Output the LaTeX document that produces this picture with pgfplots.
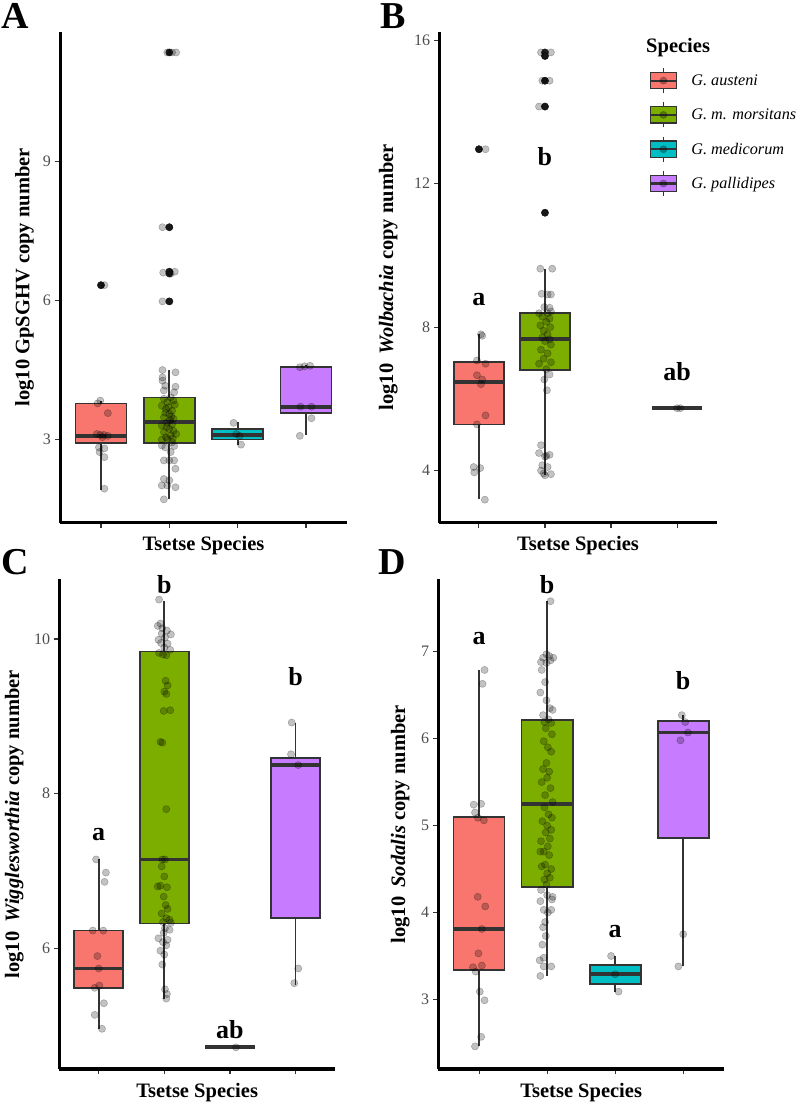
\documentclass[border=0pt]{standalone}
\usepackage{fontspec}
\setmainfont{Liberation Serif}
\usepackage{pgfplots}
\pgfplotsset{compat=1.18}
\usepgfplotslibrary{statistics}

\definecolor{cA}{HTML}{F8766D}
\definecolor{cB}{HTML}{7CAE00}
\definecolor{cC}{HTML}{00BFC4}
\definecolor{cD}{HTML}{C77CFF}
\definecolor{gtwenty}{HTML}{333333}
\definecolor{gthirty}{HTML}{4D4D4D}

\newcommand\ttlfont{\fontsize{20.5}{24}\selectfont\bfseries}
\newcommand\tickfont{\fontsize{16}{19}\selectfont}
\newcommand\letfont{\fontsize{26}{28}\selectfont\bfseries}
\newcommand\panfont{\fontsize{38}{40}\selectfont\bfseries}

\pgfplotsset{
  panel/.style={
    scale only axis, anchor=south west, clip=false,
    xmin=0.4, xmax=4.6,
    axis x line*=bottom, axis y line*=left,
    axis line style={-, line width=3pt, black},
    xtick={1,2,3,4}, xticklabels={},
    tick align=outside, major tick length=5pt,
    tick style={gtwenty, line width=1.1pt},
    yticklabel style={font=\tickfont, text=gthirty, inner sep=4pt},
    /pgf/number format/assume math mode=true,
    xlabel={Tsetse Species},
    xlabel style={at={(axis description cs:0.5,0)}, anchor=base, yshift=-28pt, font=\ttlfont},
    ylabel style={font=\ttlfont, anchor=center},
  },
  bx/.style n args={6}{boxplot prepared={draw position=#1, lower whisker=#2,
      lower quartile=#3, median=#4, upper quartile=#5, upper whisker=#6,
      box extend=0.75, whisker extend=0, draw direction=y},
    draw=gtwenty, line width=1.7pt, forget plot},
  boxplot/every median/.style={line width=3.8pt},
  jit/.style={only marks, mark=*, mark size=3.6pt,
    mark options={draw=black, fill=black, draw opacity=0.28, fill opacity=0.24, line width=0.5pt},
    forget plot},
  outl/.style={only marks, mark=*, mark size=3.6pt, color=black!88, forget plot},
  boxkey/.style={legend image code/.code={
    \draw[gtwenty, line width=1.3pt] (12.85pt,-12.5pt) -- (12.85pt,12.5pt);
    \draw[gtwenty, fill=#1, line width=1.3pt] (0pt,-8.2pt) rectangle (25.7pt,8.2pt);
    \draw[gtwenty, line width=2.2pt] (0pt,0pt) -- (25.7pt,0pt);
    \fill[black, opacity=0.3] (12.85pt,0pt) circle (3.6pt);
  }},
}

\begin{document}
\begin{tikzpicture}[x=1pt, y=1pt]

% ---------------- A: GpSGHV
\begin{axis}[panel, at={(60pt,580pt)}, width=287pt, height=491.4pt,
  ymin=1.2, ymax=11.8, ytick={3,6,9},
  ylabel={log10 GpSGHV copy number},
  ylabel style={at={(axis description cs:-0.1237,0.5)}}]
\addplot[bx={1}{1.92}{2.92}{3.08}{3.78}{3.84}, fill=cA] coordinates {};
\addplot[bx={2}{1.71}{2.92}{3.37}{3.91}{4.49}, fill=cB] coordinates {};
\addplot[bx={3}{2.89}{3.00}{3.10}{3.23}{3.37}, fill=cC] coordinates {};
\addplot[bx={4}{3.09}{3.57}{3.71}{4.57}{4.60}, fill=cD] coordinates {};
\addplot[outl] coordinates {(1,6.33) (2,11.35) (2,7.58) (2,6.62) (2,6.58) (2,5.98)};
\addplot[jit] coordinates {
 (1.00,6.33) (1.05,6.33) (0.99,3.84) (0.95,3.78) (1.10,3.57) (0.94,3.12) (0.99,3.10)
 (1.04,3.10) (1.10,3.08) (1.02,3.05) (0.97,2.83) (1.05,2.81) (0.98,2.73) (1.05,2.62) (1.05,1.94)};
\addplot[jit] coordinates {
 (1.97,11.35) (2.04,11.35) (2.10,11.35) (1.90,7.58) (2.00,7.58) (1.91,6.60) (2.00,6.62)
 (2.02,6.58) (2.08,6.62) (1.90,5.98) (2.00,5.98)
 (1.90,4.50) (2.09,4.45) (1.90,4.34) (1.90,4.27) (1.94,4.16) (2.09,4.14) (1.92,4.06)
 (2.07,4.02) (2.02,3.91) (1.92,3.88) (1.97,3.81) (2.06,3.84) (1.89,3.73) (1.95,3.66)
 (2.04,3.62) (2.00,3.55) (1.92,3.48) (2.06,3.45) (1.97,3.37) (2.04,3.33) (1.89,3.30)
 (2.00,3.23) (2.06,3.19) (1.92,3.16) (2.02,3.09) (1.97,3.01) (1.89,3.00) (2.04,2.94)
 (2.08,3.75) (1.94,3.58) (2.01,3.42) (1.96,3.27) (2.10,3.12) (1.95,3.05) (2.03,3.50)
 (1.99,3.70) (2.05,3.02)
 (1.89,2.87) (2.07,2.86) (1.94,2.83) (2.02,2.73) (1.92,2.55) (2.07,2.55) (2.00,2.55)
 (2.09,2.37) (1.92,2.15) (2.00,2.12) (1.89,2.01) (2.09,1.97) (1.97,2.01) (1.92,1.71)};
\addplot[jit] coordinates {(2.94,3.36) (3.05,2.89) (2.98,3.12) (3.03,3.08)};
\addplot[jit] coordinates {(3.91,4.56) (4.06,4.59) (3.98,4.58) (3.92,3.71) (4.08,3.71) (4.08,3.46) (3.91,3.08)};
\end{axis}

% ---------------- B: Wolbachia
\begin{axis}[panel, at={(439.3pt,580pt)}, width=277.4pt, height=491.4pt,
  ymin=2.54, ymax=16.24, ytick={4,8,12,16},
  ylabel={log10\hspace{0.45em}\textit{Wolbachia} copy number},
  ylabel style={at={(axis description cs:-0.184,0.5)}},
  legend style={at={(0.757,0.9274)}, anchor=north west, draw=none, fill=none,
    inner sep=0pt, row sep=8pt, nodes={inner sep=0pt},
    font=\fontsize{16.2}{19}\selectfont\itshape},
  legend cell align=left]
\addplot[bx={1}{3.22}{5.29}{6.47}{7.02}{7.80}, fill=cA] coordinates {};
\addplot[bx={2}{3.88}{6.80}{7.68}{8.39}{9.63}, fill=cB] coordinates {};
\addplot[bx={4}{5.74}{5.74}{5.74}{5.74}{5.74}, fill=cD] coordinates {};
\addplot[outl] coordinates {(1,12.96) (2,15.66) (2,15.56) (2,14.87) (2,14.15) (2,11.19)};
\addplot[jit] coordinates {
 (1.00,12.96) (1.10,12.96) (1.03,7.80) (1.05,7.76) (0.97,7.07) (1.10,6.98) (0.97,6.66)
 (1.05,6.54) (1.03,6.41) (1.10,5.54) (0.97,5.29) (0.92,4.10) (1.02,4.07) (0.93,3.95) (1.09,3.19)};
\addplot[jit] coordinates {
 (1.94,15.66) (2.09,15.66) (2.00,15.56) (1.96,14.87) (2.07,14.87) (2.00,14.87)
 (1.91,14.15) (2.00,14.15) (2.00,11.19) (1.93,9.63) (2.11,9.63)
 (1.95,8.93) (2.04,8.91) (2.09,8.91) (1.99,8.56) (2.07,8.54) (1.91,8.39) (2.04,8.39)
 (2.09,8.44) (1.96,8.29) (2.07,8.24) (2.02,8.15) (1.93,8.05) (2.08,8.00) (1.98,7.90)
 (2.04,7.80) (1.96,7.71) (2.07,7.66) (2.00,7.61) (2.09,7.51) (1.94,7.37) (2.04,7.27)
 (1.98,7.12) (2.09,7.02) (1.91,6.98) (2.02,6.83) (2.07,6.68) (1.99,6.54) (2.03,6.24)
 (1.94,4.71) (1.91,4.49) (2.07,4.44) (2.00,4.39) (2.02,4.41) (1.96,4.15) (2.04,4.10)
 (1.94,4.00) (2.09,3.90) (2.00,3.87) (1.98,3.92)};
\addplot[jit] coordinates {(4.00,5.74) (4.05,5.74)};
\node[anchor=base, font=\letfont] at (axis cs:1,8.59) {a};
\node[anchor=base, font=\letfont] at (axis cs:2,12.52) {b};
\node[anchor=base, font=\letfont] at (axis cs:4,6.51) {ab};
\addlegendimage{boxkey=cA}\addlegendentry{\hspace{14pt}G. austeni}
\addlegendimage{boxkey=cB}\addlegendentry{\hspace{14pt}G. m. morsitans}
\addlegendimage{boxkey=cC}\addlegendentry{\hspace{14pt}G. medicorum}
\addlegendimage{boxkey=cD}\addlegendentry{\hspace{14pt}G. pallidipes}
\end{axis}

% ---------------- C: Wigglesworthia
\begin{axis}[panel, at={(59.3pt,34pt)}, width=275.7pt, height=489.5pt,
  ymin=4.44, ymax=10.77, ytick={6,8,10},
  ylabel={log10\hspace{0.45em}\textit{Wigglesworthia} copy number},
  ylabel style={at={(axis description cs:-0.1636,0.5)}}]
\addplot[bx={1}{4.96}{5.49}{5.74}{6.23}{7.15}, fill=cA] coordinates {};
\addplot[bx={2}{5.35}{6.32}{7.15}{9.84}{10.49}, fill=cB] coordinates {};
\addplot[bx={3}{4.72}{4.72}{4.72}{4.72}{4.72}, fill=cC] coordinates {};
\addplot[bx={4}{5.52}{6.39}{8.37}{8.46}{8.92}, fill=cD] coordinates {};
\addplot[jit] coordinates {
 (0.96,7.15) (1.11,6.98) (1.09,6.86) (0.91,6.23) (1.07,6.23) (0.98,5.90) (1.00,5.74)
 (1.01,5.52) (0.94,5.49) (1.08,5.29) (0.94,5.14) (1.05,4.96)};
\addplot[jit] coordinates {
 (1.92,10.51) (1.94,10.20) (1.90,10.17) (1.97,10.14) (2.04,10.11) (1.96,10.07) (2.10,10.06)
 (2.01,10.02) (1.91,9.99) (1.95,9.95) (2.05,9.94) (2.00,9.89) (2.09,9.86) (1.92,9.82)
 (1.98,9.80) (2.03,9.79) (2.02,9.46) (2.05,9.40) (2.00,9.32) (2.03,9.29) (1.99,9.07)
 (2.09,9.08) (1.94,8.67) (1.97,8.66) (2.03,7.80) (1.97,7.15) (2.01,7.15) (1.96,7.06)
 (2.00,6.93) (1.90,6.80) (1.94,6.81) (2.04,6.79) (1.99,6.67) (2.02,6.56) (2.05,6.51)
 (1.96,6.45) (2.03,6.39) (2.08,6.37) (1.98,6.34) (2.10,6.33) (2.01,6.26) (2.08,6.24)
 (1.99,6.20) (1.91,6.13) (2.05,6.11) (1.98,6.08) (2.03,6.04) (1.94,5.97) (2.00,5.92)
 (1.97,5.79) (2.01,5.47) (2.04,5.41) (2.03,5.35)};
\addplot[jit] coordinates {(3.09,4.72)};
\addplot[jit] coordinates {(3.94,8.92) (3.93,8.51) (4.04,8.37) (4.04,5.74) (3.98,5.55)};
\node[anchor=base, font=\letfont] at (axis cs:1,7.40) {a};
\node[anchor=base, font=\letfont] at (axis cs:2,10.59) {b};
\node[anchor=base, font=\letfont] at (axis cs:3,4.84) {ab};
\node[anchor=base, font=\letfont] at (axis cs:4,9.40) {b};
\end{axis}

% ---------------- D: Sodalis
\begin{axis}[panel, at={(438.3pt,34pt)}, width=285.7pt, height=489.5pt,
  ymin=2.20, ymax=7.83, ytick={3,4,5,6,7},
  ylabel={log10\hspace{0.45em}\textit{Sodalis} copy number},
  ylabel style={at={(axis description cs:-0.133,0.5)}}]
\addplot[bx={1}{2.46}{3.34}{3.81}{5.10}{6.79}, fill=cA] coordinates {};
\addplot[bx={2}{3.27}{4.29}{5.25}{6.21}{7.58}, fill=cB] coordinates {};
\addplot[bx={3}{3.09}{3.18}{3.29}{3.40}{3.50}, fill=cC] coordinates {};
\addplot[bx={4}{3.38}{4.86}{6.07}{6.20}{6.27}, fill=cD] coordinates {};
\addplot[jit] coordinates {
 (1.08,6.79) (1.05,6.63) (0.92,5.24) (1.03,5.25) (0.94,5.15) (0.98,5.09) (1.07,5.06)
 (0.98,4.18) (1.09,4.07) (1.04,3.81) (0.99,3.53) (0.91,3.37) (1.04,3.39) (0.95,3.32)
 (1.01,3.09) (1.08,2.99) (1.03,2.57) (0.94,2.46)};
\addplot[jit] coordinates {
 (2.05,7.58) (1.99,6.97) (1.94,6.93) (2.03,6.95) (2.09,6.93) (1.91,6.88) (1.99,6.87)
 (2.05,6.90) (1.92,6.79) (1.97,6.65) (1.90,6.53) (1.99,6.44) (2.04,6.35) (2.08,6.33)
 (1.94,6.27) (2.02,6.22) (1.96,6.19) (2.06,6.18) (1.98,6.12) (2.07,6.05) (1.95,5.97)
 (2.01,5.90) (2.06,5.85) (1.99,5.72) (1.94,5.65) (2.03,5.62) (2.00,5.55) (1.92,5.50)
 (2.05,5.43) (1.97,5.35) (2.08,5.27) (1.96,5.21) (2.02,5.13) (2.07,5.09) (1.93,5.05)
 (2.00,5.00) (2.06,4.95) (1.98,4.92) (2.04,4.85) (1.91,4.82) (2.01,4.76) (1.95,4.70)
 (1.90,4.70) (2.03,4.66) (1.97,4.55) (2.06,4.50) (1.92,4.53) (2.00,4.45) (2.04,4.40)
 (1.96,4.38) (1.99,4.32) (1.91,4.26) (2.00,4.20) (2.08,4.18) (1.90,4.13) (2.07,4.15)
 (1.95,4.03) (2.06,4.03) (2.01,4.00) (1.97,3.89) (1.94,3.83) (1.98,3.73) (1.93,3.63)
 (1.95,3.48) (1.89,3.45) (1.95,3.38) (2.06,3.38) (1.90,3.27)};
\addplot[jit] coordinates {(2.94,3.50) (3.05,3.09) (3.00,3.29)};
\addplot[jit] coordinates {(3.98,6.27) (4.03,6.19) (4.07,6.07) (3.96,5.98) (4.00,3.75) (3.93,3.38)};
\node[anchor=base, font=\letfont] at (axis cs:1,7.08) {a};
\node[anchor=base, font=\letfont] at (axis cs:2,7.67) {b};
\node[anchor=base, font=\letfont] at (axis cs:3,3.71) {a};
\node[anchor=base, font=\letfont] at (axis cs:4,6.57) {b};
\end{axis}

% panel tags and legend title
\node[anchor=base west, font=\panfont, inner sep=0pt] at (1.5pt,1074.7pt) {A};
\node[anchor=base west, font=\panfont, inner sep=0pt] at (380.5pt,1074.7pt) {B};
\node[anchor=base west, font=\panfont, inner sep=0pt] at (1.5pt,528pt) {C};
\node[anchor=base west, font=\panfont, inner sep=0pt] at (378.5pt,528pt) {D};
\node[anchor=base west, font=\ttlfont, inner sep=0pt] at (646pt,1050.3pt) {Species};

\pgfresetboundingbox
\path[use as bounding box] (0pt,0pt) rectangle (797pt,1103pt);
\end{tikzpicture}
\end{document}
